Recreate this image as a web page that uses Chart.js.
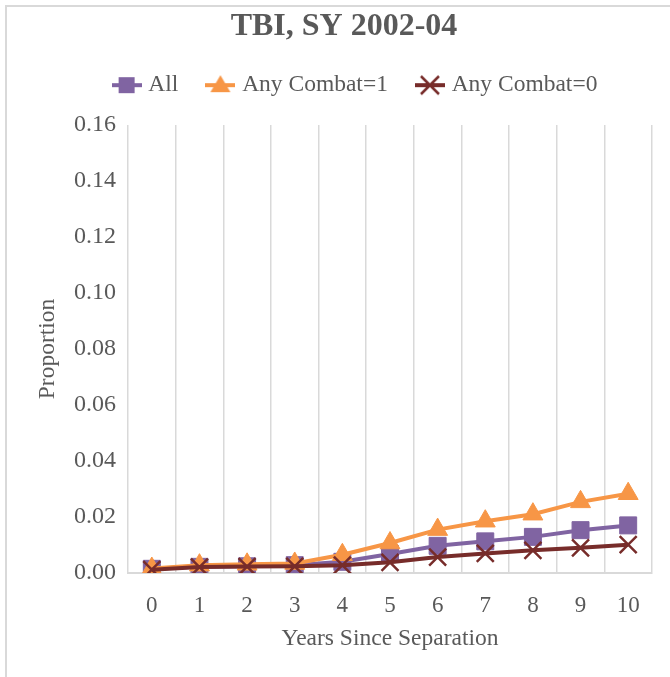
<!DOCTYPE html>
<html>
<head>
<meta charset="utf-8">
<script src="https://cdn.jsdelivr.net/npm/chart.js@4.4.1/dist/chart.umd.min.js"></script>
<style>
  html, body { margin: 0; padding: 0; background: #ffffff; }
  #wrap { position: relative; width: 670px; height: 677px; }
  #frame { position: absolute; left: 5px; top: 5px; right: 0; bottom: 0; border-left: 2px solid #d9d9d9; border-top: 2px solid #d9d9d9; pointer-events: none; }
  canvas { position: absolute; left: 0; top: 0; }
</style>
</head>
<body>
<div id="wrap">
  <canvas id="c" width="670" height="677"></canvas>
  <div id="frame"></div>
</div>
<script>
const categories = ['0', '1', '2', '3', '4', '5', '6', '7', '8', '9', '10'];
const allValues = [0.0015, 0.0022, 0.0024, 0.0028, 0.0040, 0.0068, 0.0097, 0.0113, 0.0129, 0.0153, 0.0170];
const combat1Values = [0.0016, 0.0028, 0.0031, 0.0034, 0.0065, 0.0107, 0.0155, 0.0185, 0.0210, 0.0254, 0.0283];
const combat0Values = [0.0012, 0.0021, 0.0023, 0.0024, 0.0028, 0.0038, 0.0057, 0.0070, 0.0081, 0.0090, 0.0101];
const yTicks = [0, 0.02, 0.04, 0.06, 0.08, 0.10, 0.12, 0.14, 0.16];

const FONT = "'Liberation Serif', 'Times New Roman', serif";
const TEXT = '#595959';

function legendIcon(color, style) {
  const cv = document.createElement('canvas');
  cv.width = 30; cv.height = 24;
  const g = cv.getContext('2d');
  g.strokeStyle = color; g.fillStyle = color; g.lineWidth = 4;
  g.beginPath(); g.moveTo(0, 12); g.lineTo(30, 12); g.stroke();
  if (style === 'rect') {
    g.fillRect(15 - 8, 12 - 8, 16, 16);
  } else if (style === 'triangle') {
    g.beginPath(); g.moveTo(15, 2); g.lineTo(25, 19); g.lineTo(5, 19); g.closePath(); g.fill();
  } else {
    g.lineWidth = 2.5;
    g.beginPath(); g.moveTo(6, 3); g.lineTo(24, 21); g.moveTo(24, 3); g.lineTo(6, 21); g.stroke();
  }
  return cv;
}

const series = [
  { label: 'All', data: allValues, color: '#8064A2', style: 'rect', radius: 12, order: 3 },
  { label: 'Any Combat=1', data: combat1Values, color: '#F79646', style: 'triangle', radius: 11.5, order: 2 },
  { label: 'Any Combat=0', data: combat0Values, color: '#772C2A', style: 'crossRot', radius: 12, order: 1 }
];

const datasets = series.map(s => ({
  label: s.label,
  data: s.data,
  borderColor: s.color,
  backgroundColor: s.color,
  borderWidth: 4,
  pointStyle: s.style,
  pointRadius: s.radius,
  pointHoverRadius: s.radius,
  pointBorderWidth: s.style === 'crossRot' ? 2.5 : 1,
  pointBorderColor: s.color,
  pointBackgroundColor: s.color,
  tension: 0,
  order: s.order,
  _icon: legendIcon(s.color, s.style)
}));

const shiftPlugin = {
  id: 'shiftBoxes',
  afterLayout(chart) {
    const wrap = (box, dx, dy) => {
      if (!box || box._shifted) return;
      const orig = box.draw.bind(box);
      box.draw = function (area) {
        const ctx = chart.ctx;
        ctx.save(); ctx.translate(dx, dy); orig(area); ctx.restore();
      };
      box._shifted = true;
    };
    wrap(chart.titleBlock, 14, 0);
    wrap(chart.legend, 27, -13);
  }
};

const legendGapPlugin = {
  id: 'legendGap',
  afterInit(chart) {
    const lg = chart.legend;
    if (lg && !lg._gapPatched) {
      const origFit = lg.fit.bind(lg);
      lg.fit = function () { origFit(); this.height += 5; };
      lg._gapPatched = true;
    }
  }
};

new Chart(document.getElementById('c'), {
  type: 'line',
  data: { labels: categories, datasets },
  plugins: [legendGapPlugin, shiftPlugin],
  options: {
    responsive: false,
    animation: false,
    devicePixelRatio: 1,
    layout: { padding: { left: 8, right: 18, top: 4, bottom: 8 } },
    plugins: {
      tooltip: { enabled: false },
      title: {
        display: true,
        text: 'TBI, SY 2002-04',
        color: TEXT,
        font: { family: FONT, size: 32, weight: 'bold' },
        padding: { top: 4, bottom: 8 }
      },
      legend: {
        display: true,
        position: 'top',
        labels: {
          usePointStyle: true,
          pointStyleWidth: 20,
          boxHeight: 20,
          padding: 32,
          color: TEXT,
          font: { family: FONT, size: 23.5 },
          generateLabels: (chart) => chart.data.datasets.map((ds, i) => ({
            text: ds.label,
            pointStyle: ds._icon,
            fillStyle: ds.borderColor,
            strokeStyle: ds.borderColor,
            fontColor: TEXT,
            lineWidth: 0,
            hidden: false,
            datasetIndex: i
          }))
        }
      }
    },
    scales: {
      x: {
        type: 'category',
        offset: true,
        grid: {
          display: true,
          offset: true,
          drawTicks: false,
          lineWidth: 1.5,
          color: (ctx) => ctx.index >= categories.length ? 'rgba(0,0,0,0)' : '#d9d9d9'
        },
        border: { display: true, color: '#d9d9d9', width: 2 },
        ticks: { color: TEXT, font: { family: FONT, size: 23 }, padding: 19, maxRotation: 0 },
        title: {
          display: true,
          text: 'Years Since Separation',
          color: TEXT,
          font: { family: FONT, size: 23.5 },
          padding: { top: 4, bottom: 16 }
        },
        afterFit: (scale) => { scale.height = 96; }
      },
      y: {
        min: 0,
        max: 0.16,
        grid: { display: false, drawTicks: false },
        border: { display: false },
        afterBuildTicks: (scale) => { scale.ticks = yTicks.map(v => ({ value: v })); },
        ticks: {
          color: TEXT,
          font: { family: FONT, size: 24 },
          padding: 12,
          callback: (v) => Number(v).toFixed(2)
        },
        title: {
          display: true,
          text: 'Proportion',
          color: TEXT,
          font: { family: FONT, size: 23.5 },
          padding: { top: 26, bottom: 4 }
        },
        afterFit: (scale) => { scale.width = 120; }
      }
    }
  }
});
</script>
</body>
</html>
